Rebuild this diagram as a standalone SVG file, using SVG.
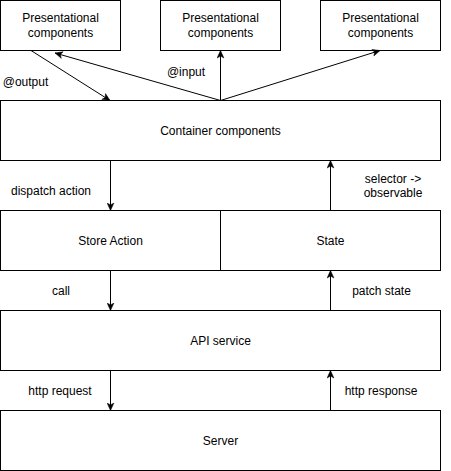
<svg xmlns="http://www.w3.org/2000/svg" width="451" height="471" viewBox="0 0 451 471">
<style>
.box{fill:#fff;stroke:#000;stroke-width:1}
.t{font-family:"Liberation Sans",Arial,sans-serif;font-size:12px;fill:#000;text-anchor:middle}
.l{font-family:"Liberation Sans",Arial,sans-serif;font-size:12px;fill:#000;text-anchor:middle}
.c{fill:none;stroke:#000;stroke-width:1}
</style>
<defs>
<marker id="arr" viewBox="0 0 8 8" refX="8" refY="4" markerWidth="8" markerHeight="8" markerUnits="userSpaceOnUse" orient="auto">
<path d="M0.5,0.6 L8,4 L0.5,7.4 L2.4,4 Z" fill="#000" stroke="#000" stroke-width="0.5"/>
</marker>
</defs>
<rect width="451" height="471" fill="#fff"/>
<g id="pres1"><rect class="box" x="0.5" y="0.5" width="120" height="50"/><text class="t" x="60.5" y="22">Presentational</text><text class="t" x="60.5" y="37">components</text></g>
<g id="pres2"><rect class="box" x="160.5" y="0.5" width="120" height="50"/><text class="t" x="220.5" y="22">Presentational</text><text class="t" x="220.5" y="37">components</text></g>
<g id="pres3"><rect class="box" x="320.5" y="0.5" width="120" height="50"/><text class="t" x="380.5" y="22">Presentational</text><text class="t" x="380.5" y="37">components</text></g>
<g id="container"><rect class="box" x="0.5" y="100.5" width="440" height="60"/><text class="t" x="220.5" y="135">Container components</text></g>
<g id="storeAction"><rect class="box" x="0.5" y="210.5" width="220" height="60"/><text class="t" x="110.5" y="245">Store Action</text></g>
<g id="state"><rect class="box" x="220.5" y="210.5" width="220" height="60"/><text class="t" x="330.5" y="245">State</text></g>
<g id="api"><rect class="box" x="0.5" y="310.5" width="440" height="60"/><text class="t" x="220.5" y="345">API service</text></g>
<g id="server"><rect class="box" x="0.5" y="410.5" width="440" height="60"/><text class="t" x="220.5" y="445">Server</text></g>
<g id="connectors">
<line class="c" x1="31" y1="50.5" x2="110" y2="100.5" marker-end="url(#arr)"/>
<line class="c" x1="220.5" y1="100.5" x2="55" y2="53" marker-end="url(#arr)"/>
<line class="c" x1="220.5" y1="100.5" x2="220.5" y2="50.5" marker-end="url(#arr)"/>
<line class="c" x1="220.5" y1="100.5" x2="380" y2="50.5" marker-end="url(#arr)"/>
<line class="c" x1="110.5" y1="160.5" x2="110.5" y2="210.5" marker-end="url(#arr)"/>
<line class="c" x1="330.5" y1="210.5" x2="330.5" y2="160.5" marker-end="url(#arr)"/>
<line class="c" x1="110.5" y1="270.5" x2="110.5" y2="310.5" marker-end="url(#arr)"/>
<line class="c" x1="330.5" y1="310.5" x2="330.5" y2="270.5" marker-end="url(#arr)"/>
<line class="c" x1="110.5" y1="370.5" x2="110.5" y2="410.5" marker-end="url(#arr)"/>
<line class="c" x1="330.5" y1="410.5" x2="330.5" y2="370.5" marker-end="url(#arr)"/>
<text class="l" x="25.5" y="86">@output</text>
<text class="l" x="186" y="76">@input</text>
<text class="l" x="51" y="195">dispatch action</text>
<text class="l" x="393" y="183">selector -&gt;</text>
<text class="l" x="393" y="197">observable</text>
<text class="l" x="61" y="295">call</text>
<text class="l" x="381.5" y="295">patch state</text>
<text class="l" x="60" y="395">http request</text>
<text class="l" x="381" y="395">http response</text>
</g>
</svg>
